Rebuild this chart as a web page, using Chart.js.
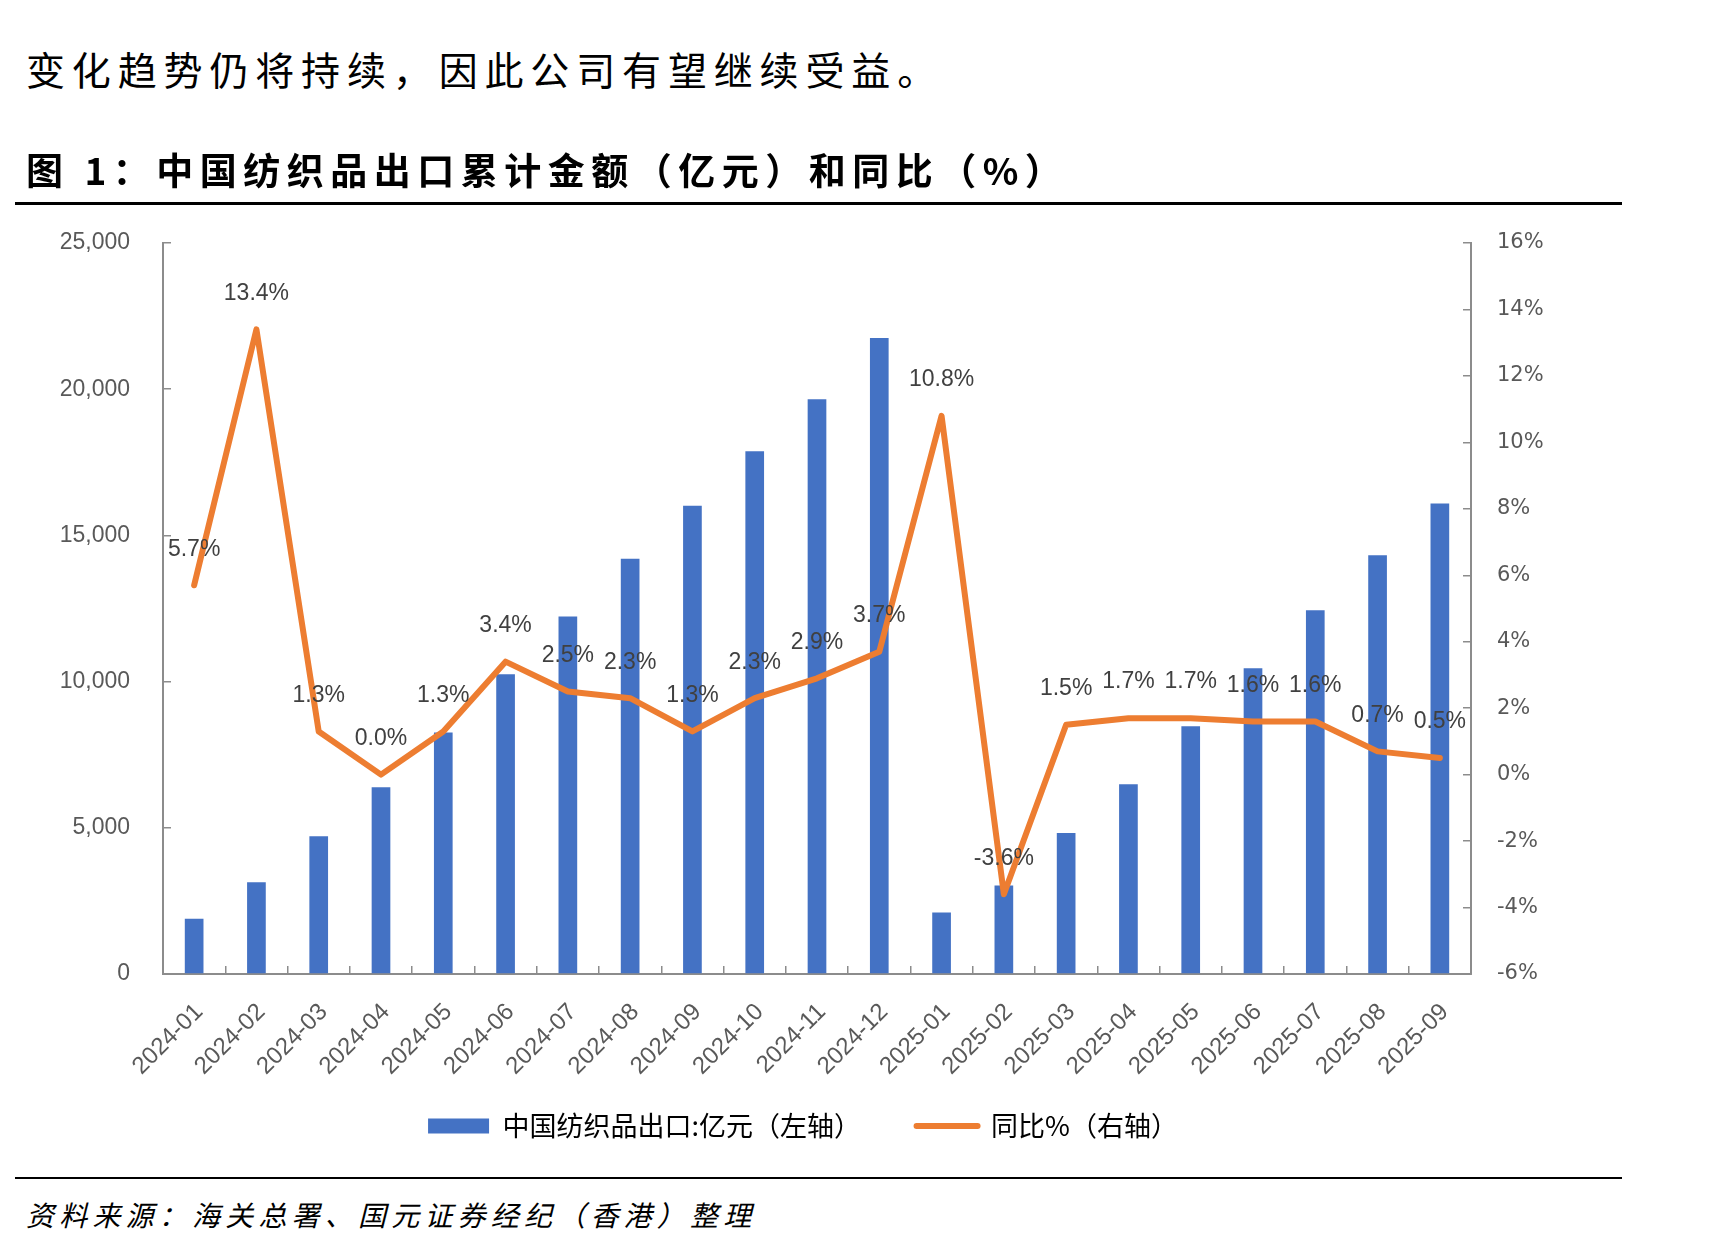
<!DOCTYPE html>
<html>
<head>
<meta charset="utf-8">
<script src="https://cdn.jsdelivr.net/npm/chart.js@4.4.1/dist/chart.umd.min.js"></script>
<style>
  html, body { margin: 0; padding: 0; background: #fff; }
  body { width: 1730px; height: 1245px; position: relative; overflow: hidden; }
  .txt { position: absolute; white-space: nowrap; color: #000; font-family: "Noto Sans CJK SC", sans-serif; z-index: 2; }
  #body2 { left: 26px; top: 47px; font-size: 39px; line-height: 42px; letter-spacing: 6.85px; }
  #title { left: 26px; top: 148px; font-size: 37px; line-height: 42px; letter-spacing: 6.5px; font-weight: 700; }
  #source { left: 26px; top: 1197px; font-size: 28px; line-height: 34px; letter-spacing: 5.2px; font-style: italic; }
  .rule { position: absolute; left: 15px; width: 1607px; background: #000; z-index: 2; }
  #rule1 { top: 202px; height: 3px; }
  #rule2 { top: 1177px; height: 2px; }
  #chartWrap { position: absolute; left: 0; top: 188px; width: 1606px; height: 972px; z-index: 1; }
</style>
</head>
<body>
<div class="txt" id="body2">变化趋势仍将持续，因此公司有望继续受益。</div>
<div class="txt" id="title">图 1：中国纺织品出口累计金额（亿元）和同比（%）</div>
<div class="rule" id="rule1"></div>
<div id="chartWrap"><canvas id="c" width="1606" height="972"></canvas></div>
<div class="rule" id="rule2"></div>
<div class="txt" id="source">资料来源：海关总署、国元证券经纪（香港）整理</div>
<script>
const categories = ['2024-01','2024-02','2024-03','2024-04','2024-05','2024-06','2024-07','2024-08','2024-09','2024-10','2024-11','2024-12','2025-01','2025-02','2025-03','2025-04','2025-05','2025-06','2025-07','2025-08','2025-09'];
const exportValues = [1890, 3140, 4710, 6390, 8260, 10250, 12230, 14200, 16010, 17880, 19660, 21750, 2100, 3030, 4820, 6490, 8470, 10460, 12440, 14320, 16090];
const yoyValues = [5.7, 13.4, 1.3, 0.0, 1.3, 3.4, 2.5, 2.3, 1.3, 2.3, 2.9, 3.7, 10.8, -3.6, 1.5, 1.7, 1.7, 1.6, 1.6, 0.7, 0.5];
const seriesNames = ['中国纺织品出口:亿元（左轴）', '同比%（右轴）'];
const leftAxis = { min: 0, max: 25000, step: 5000 };
const rightAxis = { min: -6, max: 16, step: 2 };

const BAR = '#4472C4', LINE = '#ED7D31', AXIS = '#8C8C8C', TICKTXT = '#595959', LBL = '#404040';

const dataLabels = {
  id: 'dataLabels',
  afterDatasetsDraw(chart) {
    const meta = chart.getDatasetMeta(1);
    const ctx = chart.ctx;
    ctx.save();
    ctx.font = '23px "Liberation Sans", Arial, sans-serif';
    ctx.fillStyle = LBL;
    ctx.textAlign = 'center';
    ctx.textBaseline = 'middle';
    meta.data.forEach((pt, i) => {
      ctx.fillText(yoyValues[i].toFixed(1) + '%', pt.x, pt.y - 36);
    });
    ctx.restore();
  }
};

new Chart(document.getElementById('c'), {
  data: {
    labels: categories,
    datasets: [
      { type: 'bar', label: seriesNames[0], data: exportValues, backgroundColor: BAR, yAxisID: 'y', order: 1,
        categoryPercentage: 1.0, barPercentage: 0.3 },
      { type: 'line', label: seriesNames[1], data: yoyValues, borderColor: LINE, backgroundColor: LINE, borderWidth: 6,
        pointRadius: 0, tension: 0, yAxisID: 'y1', order: 0, borderJoinStyle: 'round', borderCapStyle: 'round' }
    ]
  },
  options: {
    responsive: false,
    animation: false,
    devicePixelRatio: 1,
    layout: { padding: { top: 55, left: 0, right: 0, bottom: 10.5 } },
    plugins: {
      tooltip: { enabled: false },
      legend: {
        position: 'bottom',
        labels: {
          usePointStyle: true,
          pointStyleWidth: 61,
          boxHeight: 15,
          padding: 33,
          color: TICKTXT,
          font: { family: '"Noto Sans CJK SC", sans-serif', size: 27 },
          generateLabels: () => [
            { text: seriesNames[0] + '\u2002\u2004', fillStyle: BAR, strokeStyle: BAR, lineWidth: 0, pointStyle: 'rect', datasetIndex: 0, hidden: false },
            { text: seriesNames[1], fillStyle: LINE, strokeStyle: LINE, lineWidth: 6, lineCap: 'round', pointStyle: 'line', datasetIndex: 1, hidden: false }
          ]
        }
      }
    },
    scales: {
      x: {
        offset: true,
        grid: { display: true, offset: true, drawOnChartArea: false, drawTicks: true, tickLength: -8, color: AXIS, lineWidth: 1.5 },
        border: { display: true, color: AXIS, width: 2 },
        ticks: { autoSkip: true, minRotation: 45, maxRotation: 45, padding: 32, labelOffset: 5, color: TICKTXT,
          font: { family: '"Liberation Sans", Arial, sans-serif', size: 24 } },
        afterFit(scale) { scale.height = 105.5; }
      },
      y: {
        position: 'left',
        min: leftAxis.min, max: leftAxis.max,
        grid: { display: true, drawOnChartArea: false, drawTicks: true, tickLength: -8, color: AXIS, lineWidth: 1.5 },
        border: { display: true, color: AXIS, width: 2 },
        ticks: { stepSize: leftAxis.step, padding: 41, color: TICKTXT,
          font: { family: '"Liberation Sans", Arial, sans-serif', size: 23 },
          callback: v => v.toLocaleString('en-US') },
        afterFit(scale) { scale.width = 163; }
      },
      y1: {
        position: 'right',
        min: rightAxis.min, max: rightAxis.max,
        grid: { display: true, drawOnChartArea: false, drawTicks: true, tickLength: -8, color: AXIS, lineWidth: 1.5 },
        border: { display: true, color: AXIS, width: 2 },
        ticks: { stepSize: rightAxis.step, padding: 34, color: TICKTXT,
          font: { family: '"DejaVu Sans", sans-serif', size: 21 },
          callback: v => v + '%' },
        afterFit(scale) { scale.width = 135; }
      }
    }
  },
  plugins: [dataLabels]
});
</script>
</body>
</html>
